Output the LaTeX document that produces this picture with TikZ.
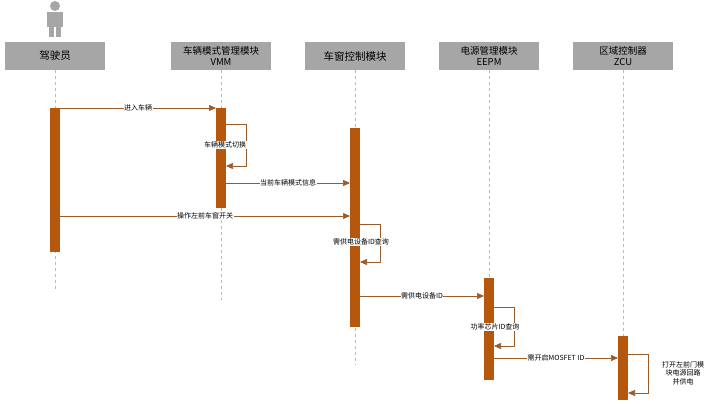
\documentclass[tikz,border=0pt]{standalone}
\usepackage{fontspec}
\setmainfont{Liberation Serif}
\newfontfamily\cjk{Noto Sans CJK SC}
\usetikzlibrary{arrows.meta}
\definecolor{actcolor}{HTML}{B5570C}
\definecolor{headgray}{HTML}{A6A6A6}
\definecolor{lifeblue}{HTML}{9CC3D5}
\definecolor{msgcolor}{HTML}{9A5B2A}

\begin{document}
\begin{tikzpicture}[x=1pt,y=-1pt,
  header/.style={fill=headgray,minimum width=100pt,minimum height=28pt,inner sep=1pt,
    font=\cjk\fontsize{9.5}{11}\selectfont,align=center},
  lifeline/.style={lifeblue,dashed,line width=0.5pt},
  act/.style={fill=actcolor,draw=none},
  msg/.style={msgcolor,line width=0.6pt,-{Triangle[length=7pt,width=6pt]}},
  msglabel/.style={fill=white,inner sep=0.5pt,text=black,font=\cjk\fontsize{7}{8.5}\selectfont,align=center}]
\useasboundingbox[fill=white] (0,0) rectangle (720,404);

% person
\fill[headgray] (55,6) circle (5);
\fill[headgray] (47,12) rectangle (63,27);
\fill[headgray] (49,27) rectangle (54,37);
\fill[headgray] (56,27) rectangle (61,37);

% headers
\node[header] (driver) at (55,56) {\fontsize{10.5}{12}\selectfont 驾驶员};
\node[header] (vmm)    at (221,56) {车辆模式管理模块\\VMM};
\node[header] (win)    at (355,56) {\fontsize{10.5}{12}\selectfont 车窗控制模块};
\node[header] (eepm)   at (489,56) {电源管理模块\\EEPM};
\node[header] (zcu)    at (623,56) {区域控制器\\ZCU};

% lifelines
\draw[lifeline] (driver.south) -- (55,290);
\draw[lifeline] (vmm.south) -- (221,300);
\draw[lifeline] (win.south) -- (355,365);
\draw[lifeline] (eepm.south) -- (489,380);
\draw[lifeline] (zcu.south) -- (623,400);

% activations
\fill[act] (50,108) rectangle (60,252);
\fill[act] (216,108) rectangle (226,208);
\fill[act] (350,128) rectangle (360,327);
\fill[act] (484,278) rectangle (494,380);
\fill[act] (618,336) rectangle (628,400);

% messages
\draw[msg] (60,108) -- node[msglabel]{进入车辆} (216,108);
\draw[msg] (226,124) -- (246,124) -- (246,166) -- (226,166);
\node[msglabel] (l1) at (225,145) {车辆模式切换};
\draw[msg] (226,183) -- node[msglabel]{当前车辆模式信息} (350,183);
\draw[msg] (60,216) -- node[msglabel]{操作左前车窗开关} (350,216);
\draw[msg] (360,224) -- (380,224) -- (380,262) -- (360,262);
\node[msglabel] (l2) at (361,242) {需供电设备ID查询};
\draw[msg] (360,296) -- node[msglabel]{需供电设备ID} (484,296);
\draw[msg] (494,307) -- (514,307) -- (514,346) -- (494,346);
\node[msglabel] (l3) at (495,327) {功率芯片ID查询};
\draw[msg] (494,358) -- node[msglabel]{需开启MOSFET ID} (618,358);
\draw[msg] (628,354) -- (648,354) -- (648,393) -- (628,393);
\node[msglabel,fill=none] (l4) at (683,373) {打开左前门模\\块电源回路\\并供电};
\end{tikzpicture}
\end{document}
